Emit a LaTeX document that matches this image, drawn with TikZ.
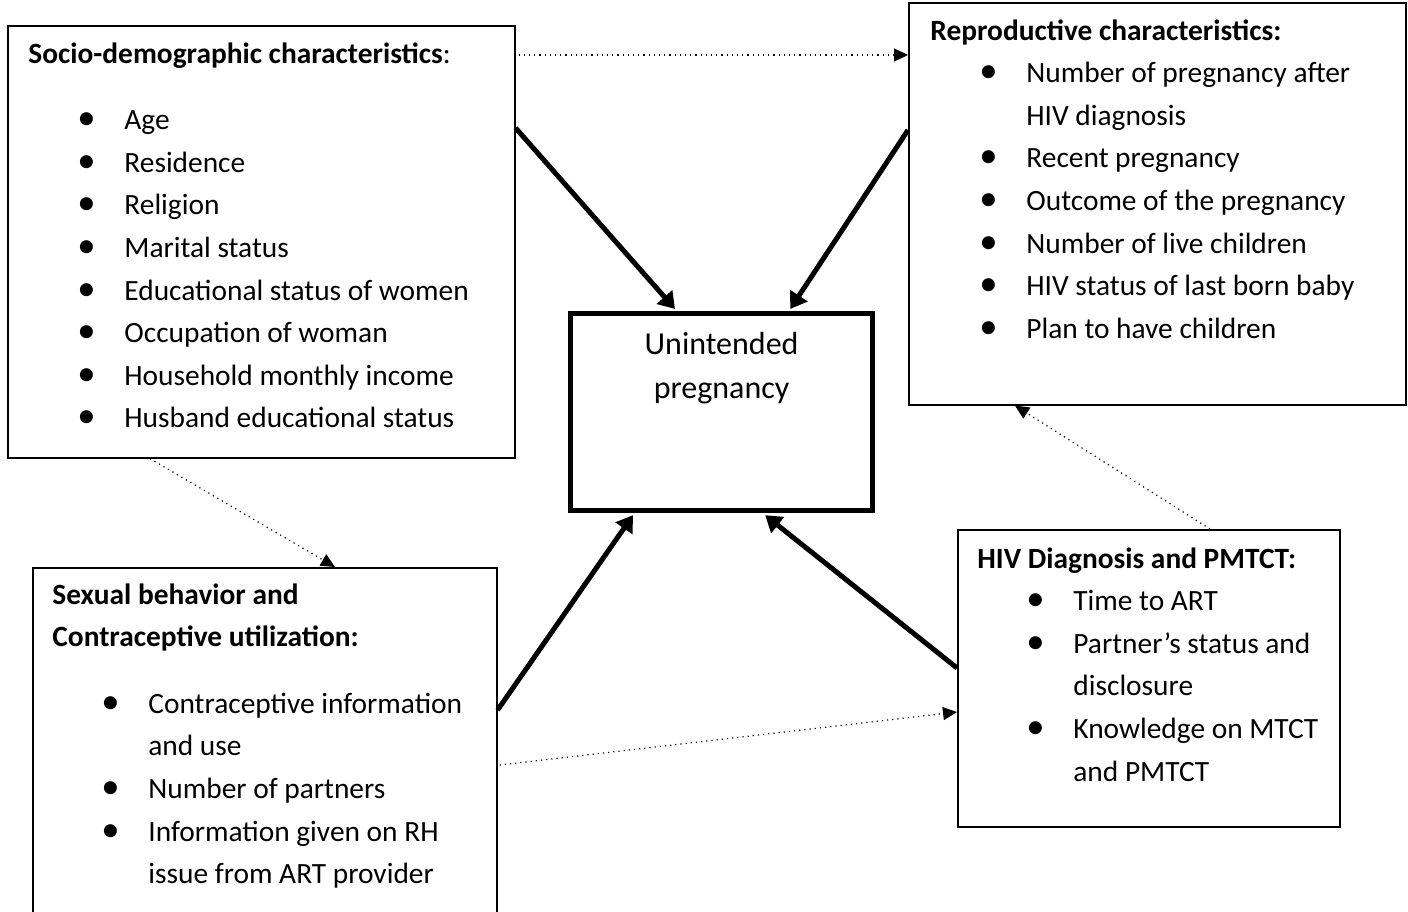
\documentclass[tikz,border=0pt]{standalone}
\usepackage{fontspec}
\setmainfont{Carlito}
\usepackage{graphicx}
\usetikzlibrary{arrows.meta,positioning,calc}
% bullet with Word-like indent
\newcommand{\bul}{\hspace*{24.5pt}\scalebox{1.25}{\textbullet}}

\begin{document}
\begin{tikzpicture}[x=0.5pt,y=-0.5pt,
    font=\fontsize{14.7}{21.3}\selectfont,
    frame/.style={draw,line width=0.8pt,inner sep=0pt,anchor=north west},
    txt/.style={anchor=base west,inner sep=0pt},
    thickarr/.style={line width=2.5pt,-{Triangle[length=8pt,width=10pt]}},
    dotarr/.style={line width=0.6pt,dotted,-{Triangle[length=7pt,width=6.5pt]}}]
  \path[use as bounding box,clip] (0,0) rectangle (1408,911);

  % boxes
  \node[frame,minimum width=253.5pt,minimum height=216pt] (socio) at (7,25) {};
  \node[frame,minimum width=248.5pt,minimum height=201pt] (repro) at (908,2) {};
  \node[frame,line width=2.6pt,minimum width=151pt,minimum height=98.5pt] (unint) at (568,311) {};
  \node[frame,minimum width=232pt,minimum height=200pt] (sexual) at (32,567) {};
  \node[frame,minimum width=191pt,minimum height=148.5pt] (hiv) at (957,529) {};

  % texts
  \node[txt] (socio-t) at ([xshift=10.5pt,yshift=-19pt]socio.north west) {%
    \begin{tabular}[t]{@{}p{48pt}@{}l@{}}
      \multicolumn{2}{@{}l@{}}{\textbf{Socio-demographic characteristics}:}\\[12pt]
      \bul & Age\\
      \bul & Residence\\
      \bul & Religion\\
      \bul & Marital status\\
      \bul & Educational status of women\\
      \bul & Occupation of woman\\
      \bul & Household monthly income\\
      \bul & Husband educational status
    \end{tabular}};
  \node[txt] (repro-t) at ([xshift=11pt,yshift=-19pt]repro.north west) {%
    \begin{tabular}[t]{@{}p{48pt}@{}l@{}}
      \multicolumn{2}{@{}l@{}}{\textbf{Reproductive characteristics:}}\\
      \bul & Number of pregnancy after\\
           & HIV diagnosis\\
      \bul & Recent pregnancy\\
      \bul & Outcome of the pregnancy\\
      \bul & Number of live children\\
      \bul & HIV status of last born baby\\
      \bul & Plan to have children
    \end{tabular}};
  \node[anchor=base,inner sep=0pt,font=\fontsize{16}{22}\selectfont] (unint-t) at ([yshift=-21.5pt]unint.north) {%
    \begin{tabular}[t]{@{}c@{}}Unintended\\ pregnancy\end{tabular}};
  \node[txt] (sexual-t) at ([xshift=10pt,yshift=-18.5pt]sexual.north west) {%
    \begin{tabular}[t]{@{}p{48pt}@{}l@{}}
      \multicolumn{2}{@{}l@{}}{\textbf{Sexual behavior and}}\\
      \multicolumn{2}{@{}l@{}}{\textbf{Contraceptive utilization:}}\\[12pt]
      \bul & Contraceptive information\\
           & and use\\
      \bul & Number of partners\\
      \bul & Information given on RH\\
           & issue from ART provider
    \end{tabular}};
  \node[txt] (hiv-t) at ([xshift=10pt,yshift=-19.5pt]hiv.north west) {%
    \begin{tabular}[t]{@{}p{48pt}@{}l@{}}
      \multicolumn{2}{@{}l@{}}{\textbf{HIV Diagnosis and PMTCT:}}\\
      \bul & Time to ART\\
      \bul & Partner’s status and\\
           & disclosure\\
      \bul & Knowledge on MTCT\\
           & and PMTCT
    \end{tabular}};

  % direct effects
  \draw[thickarr] ([yshift=-51.5pt]socio.north east) -- ([xshift=53.5pt,yshift=1pt]unint.north west);
  \draw[thickarr] ([yshift=-64pt]repro.north west) -- ([xshift=-42.5pt,yshift=1pt]unint.north east);
  \draw[thickarr] ([yshift=-71.5pt]sexual.north east) -- ([xshift=32.5pt,yshift=-1pt]unint.south west);
  \draw[thickarr] ([yshift=-69.5pt]hiv.north west) -- ([xshift=-55pt,yshift=-1pt]unint.south east);

  % links between factors
  \draw[dotarr] ([xshift=1.5pt,yshift=-15pt]socio.north east) -- ([yshift=-26.5pt]repro.north west);
  \draw[dotarr] ([xshift=71.5pt]socio.south west) -- ([xshift=151.5pt]sexual.north west);
  \draw[dotarr] ([xshift=126.5pt]hiv.north west) -- ([xshift=53.5pt]repro.south west);
  \draw[dotarr] ([xshift=1pt,yshift=-99pt]sexual.north east) -- ([yshift=-91.5pt]hiv.north west);
\end{tikzpicture}
\end{document}
